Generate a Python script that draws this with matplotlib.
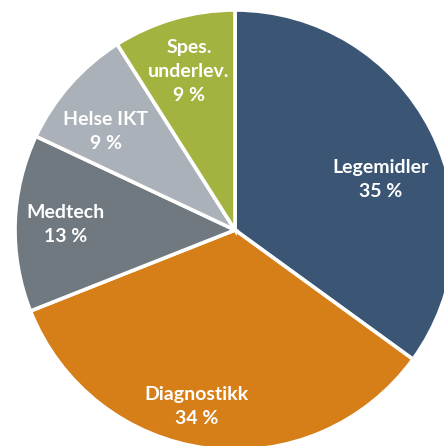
import numpy as np
import matplotlib.pyplot as plt

labels = ['Legemidler', 'Diagnostikk', 'Medtech', 'Helse IKT', 'Spes.\nunderlev.']
shares = [35, 34, 13, 9, 9]
colors = ['#3a5674', '#d67e17', '#707880', '#aab1b8', '#a4b33f']

# label placement (distance from centre, angle nudge in degrees)
label_r = [0.70, 0.82, 0.77, 0.74, 0.75]
label_nudge = [-8, -5, 0, 4, 0]

fig = plt.figure(figsize=(4.44, 4.46), dpi=100)
ax = fig.add_axes([0, 0, 1, 1])

wedges, _ = ax.pie(shares, colors=colors, startangle=90, counterclock=False,
                   radius=1.0, wedgeprops=dict(edgecolor='white', linewidth=2.6))

for w, lab, v, r, dn in zip(wedges, labels, shares, label_r, label_nudge):
    mid = np.deg2rad((w.theta1 + w.theta2) / 2 + dn)
    ax.text(r * np.cos(mid), r * np.sin(mid), f'{lab}\n{v} %',
            ha='center', va='center', color='white', fontsize=14,
            fontweight='bold', family='Lato', linespacing=1.5)

# centre at pixel (235, 230), radius 220 px
ax.set_xlim(-235 / 220, (444 - 235) / 220)
ax.set_ylim((230 - 446) / 220, 230 / 220)
ax.set_aspect('auto')
ax.axis('off')

fig.savefig('out.png', dpi=100)
